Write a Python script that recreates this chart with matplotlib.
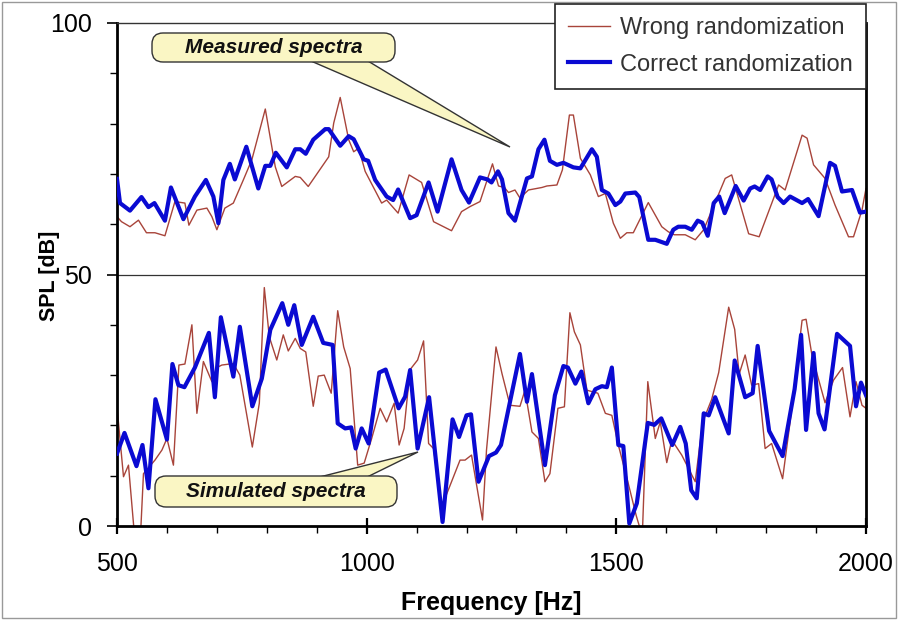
"""Spectra comparison: wrong vs correct randomization (measured and simulated SPL)."""

import numpy as np
import matplotlib.pyplot as plt
from matplotlib.patches import FancyBboxPatch, Polygon, Rectangle
from matplotlib.transforms import IdentityTransform

plt.rcParams['font.family'] = ['Liberation Sans', 'DejaVu Sans']

# (frequency [Hz], SPL [dB])
measured_wrong = [
    (500, 61.5), (509, 60.5), (526, 59.5), (543, 60.8), (559, 58.3), (576, 58.3), (596, 57.7),
    (616, 64.5), (636, 64.2), (644, 59.8), (660, 62.8), (680, 63.2), (690, 61.5), (700, 58.9),
    (716, 63.2), (733, 64.2), (753, 68.8), (770, 72.8), (797, 82.9), (817, 71.4), (830, 67.5),
    (857, 69.5), (867, 69.3), (883, 67.5), (924, 73.4), (934, 80.1), (947, 85.2), (964, 76.8),
    (974, 74.4), (984, 75.1), (997, 70.5), (1030, 64.2), (1040, 64.8), (1063, 62.2), (1085, 69.8),
    (1110, 68.3), (1134, 60.5), (1170, 58.7), (1190, 62.5), (1207, 63.5), (1227, 64.5), (1252, 72.0),
    (1264, 67.6), (1276, 67.3), (1284, 66.3), (1297, 66.8), (1307, 65.2), (1324, 66.8), (1351, 67.3),
    (1361, 67.6), (1381, 67.8), (1392, 70.8), (1406, 81.7), (1414, 81.7), (1428, 73.1), (1448, 69.8),
    (1464, 65.5), (1478, 66.1), (1494, 60.2), (1508, 57.2), (1521, 58.3), (1534, 58.3), (1564, 64.3),
    (1591, 59.5), (1604, 58.5), (1616, 57.9), (1638, 57.9), (1658, 56.9), (1675, 58.9), (1718, 69.1),
    (1731, 69.8), (1765, 58.1), (1786, 57.5), (1825, 67.8), (1838, 66.8), (1872, 77.7), (1882, 77.1),
    (1895, 71.8), (1918, 69.1), (1938, 63.8), (1965, 57.5), (1975, 57.5), (1992, 62.8), (2000, 67.1),
]

measured_correct = [
    (500, 69.0), (506, 64.2), (526, 62.7), (549, 65.4), (563, 63.4), (575, 64.2), (596, 60.7),
    (608, 67.3), (633, 61.0), (656, 65.5), (678, 68.8), (693, 65.5), (703, 60.2), (713, 68.8),
    (726, 72.0), (736, 68.9), (759, 75.4), (783, 67.1), (797, 71.6), (807, 71.6), (818, 74.2),
    (840, 71.3), (857, 74.9), (867, 74.9), (878, 74.0), (893, 76.8), (917, 78.9), (924, 78.9),
    (947, 75.6), (964, 77.5), (974, 76.9), (994, 72.9), (1003, 72.6), (1017, 68.8), (1040, 65.5),
    (1053, 64.8), (1063, 66.9), (1087, 61.2), (1100, 61.8), (1124, 68.3), (1142, 62.5), (1170, 72.9),
    (1190, 66.8), (1205, 64.3), (1227, 69.3), (1242, 68.9), (1250, 68.3), (1263, 70.5), (1271, 68.9),
    (1284, 62.2), (1297, 60.7), (1321, 69.1), (1331, 69.5), (1344, 74.9), (1356, 76.8), (1367, 72.6),
    (1381, 71.8), (1394, 72.2), (1414, 71.3), (1428, 71.1), (1451, 74.9), (1461, 73.4), (1471, 66.8),
    (1484, 66.1), (1498, 63.8), (1508, 64.5), (1518, 66.1), (1538, 66.3), (1546, 65.4), (1564, 56.9),
    (1578, 56.9), (1601, 56.1), (1614, 58.9), (1624, 59.5), (1638, 59.5), (1651, 58.9), (1663, 60.7),
    (1672, 60.3), (1683, 57.7), (1695, 64.2), (1706, 65.5), (1717, 62.2), (1739, 67.6), (1755, 64.7),
    (1768, 67.1), (1777, 67.5), (1788, 66.8), (1803, 69.5), (1811, 68.9), (1823, 65.4), (1835, 64.2),
    (1848, 65.5), (1872, 64.2), (1884, 65.0), (1905, 61.6), (1928, 72.2), (1938, 71.6), (1952, 66.5),
    (1972, 66.8), (1988, 62.3), (2000, 62.5),
]

simulated_wrong = [
    (500, 23.7), (513, 9.8), (523, 12.1), (536, -3.0), (547, -2.0), (553, 10.4), (576, 13.1),
    (590, 15.1), (600, 17.4), (613, 12.1), (624, 32.0), (636, 32.2), (650, 40.0), (660, 22.4),
    (673, 32.7), (690, 28.7), (700, 31.5), (710, 32.0), (733, 32.3), (746, 30.0), (771, 15.7),
    (785, 24.4), (795, 47.4), (805, 37.6), (820, 33.0), (833, 38.0), (843, 34.8), (857, 37.3),
    (867, 35.3), (878, 34.6), (893, 23.8), (903, 29.8), (915, 30.0), (929, 26.4), (942, 42.8),
    (954, 35.6), (967, 31.3), (982, 12.1), (995, 12.5), (1010, 17.4), (1027, 23.4), (1040, 20.7),
    (1055, 24.4), (1065, 16.1), (1075, 19.4), (1087, 31.1), (1102, 33.0), (1114, 36.8), (1124, 16.4),
    (1134, 15.4), (1150, 3.8), (1164, 7.3), (1187, 13.1), (1197, 13.1), (1210, 14.1), (1232, 1.2),
    (1240, 15.1), (1259, 35.6), (1271, 30.3), (1287, 24.0), (1307, 23.8), (1317, 27.0), (1331, 18.7),
    (1344, 17.4), (1357, 8.8), (1367, 10.4), (1383, 23.4), (1396, 23.7), (1407, 42.4), (1416, 38.6),
    (1428, 36.0), (1441, 27.0), (1463, 26.4), (1478, 22.4), (1491, 22.0), (1504, 16.1), (1520, 10.0),
    (1540, 2.0), (1552, -2.0), (1563, 28.7), (1578, 17.4), (1588, 20.7), (1601, 12.6), (1611, 17.1),
    (1631, 14.1), (1658, 8.8), (1673, 20.7), (1691, 25.2), (1705, 30.5), (1725, 43.5), (1737, 39.1),
    (1746, 30.2), (1758, 34.0), (1771, 28.0), (1785, 28.3), (1798, 15.4), (1811, 16.4), (1833, 9.4),
    (1848, 20.7), (1872, 40.9), (1880, 41.1), (1892, 33.8), (1918, 24.5), (1935, 29.0), (1953, 31.5),
    (1968, 21.7), (1980, 28.7), (1992, 24.0), (2000, 23.4),
]

simulated_correct = [
    (500, 14.4), (515, 18.5), (539, 11.9), (551, 16.1), (563, 7.5), (577, 25.2), (600, 17.2),
    (611, 32.2), (623, 28.0), (635, 27.6), (656, 31.5), (684, 38.4), (696, 25.6), (708, 41.5),
    (733, 29.7), (746, 39.6), (771, 23.8), (790, 29.3), (807, 39.0), (831, 44.3), (843, 40.0),
    (855, 43.9), (870, 36.0), (893, 41.6), (913, 36.4), (932, 36.0), (942, 20.4), (957, 19.4),
    (969, 19.6), (978, 15.4), (990, 19.4), (1004, 16.4), (1025, 30.5), (1038, 31.1), (1064, 23.4),
    (1077, 25.7), (1087, 31.0), (1102, 15.4), (1125, 25.6), (1152, 0.8), (1172, 21.2), (1185, 17.7),
    (1200, 22.0), (1209, 22.2), (1224, 8.8), (1245, 13.9), (1259, 14.6), (1269, 16.1), (1307, 34.2),
    (1321, 24.7), (1331, 30.2), (1357, 12.1), (1377, 26.0), (1394, 31.8), (1403, 31.5), (1418, 28.3),
    (1430, 30.7), (1444, 24.4), (1458, 27.2), (1471, 27.8), (1481, 27.6), (1491, 31.5), (1504, 16.1),
    (1514, 15.9), (1526, 0.5), (1541, 4.5), (1563, 20.5), (1576, 20.1), (1590, 21.4), (1612, 16.1),
    (1628, 19.7), (1639, 16.4), (1650, 7.1), (1661, 5.5), (1675, 22.4), (1685, 22.0), (1698, 25.6),
    (1725, 18.4), (1737, 32.9), (1758, 25.6), (1773, 26.4), (1783, 35.8), (1806, 18.9), (1833, 13.9),
    (1857, 27.2), (1870, 38.0), (1880, 19.1), (1895, 34.4), (1905, 22.4), (1917, 19.2), (1942, 38.2),
    (1968, 35.8), (1980, 23.8), (1990, 28.5), (2000, 26.0),
]

legend_labels = ['Wrong randomization', 'Correct randomization']

RED = '#A8443A'
BLUE = '#0A0AD2'
BOX_FILL = '#FAF6C4'

W, H = 899, 621


def px(x, y):
    """image pixel (top-left origin) -> display coords"""
    return (x, H - y)


def callout(text, box, base, tip):
    x0, y0, x1, y1 = box
    wedge = Polygon([px(*base[0]), px(*tip), px(*base[1])], closed=True,
                    facecolor=BOX_FILL, edgecolor='#333333', lw=1,
                    transform=IdentityTransform(), zorder=5)
    fig.add_artist(wedge)
    patch = FancyBboxPatch(px(x0, y1), x1 - x0, y1 - y0,
                           boxstyle='round,pad=0,rounding_size=11',
                           facecolor=BOX_FILL, edgecolor='#333333', lw=1,
                           transform=IdentityTransform(), zorder=6)
    fig.add_artist(patch)
    cx, cy = px((x0 + x1) / 2, (y0 + y1) / 2)
    fig.text(cx, cy, text, transform=IdentityTransform(), ha='center', va='center',
             fontsize=15, fontweight='bold', fontstyle='italic', color='#111111', zorder=7)


fig = plt.figure(figsize=(W / 100, H / 100), dpi=100)
ax = fig.add_axes([117 / W, 1 - 526 / H, (866 - 117) / W, (526 - 23) / H])

for data, colour, lw, label in [(measured_wrong, RED, 1.0, legend_labels[0]),
                                (measured_correct, BLUE, 3.0, legend_labels[1])]:
    f, db = np.array(data).T
    ax.plot(f, db, color=colour, lw=lw, label=label, zorder=3 if lw > 2 else 2)

for data, colour, lw in [(simulated_wrong, RED, 1.0), (simulated_correct, BLUE, 3.0)]:
    f, db = np.array(data).T
    ax.plot(f, db, color=colour, lw=lw, zorder=3 if lw > 2 else 2)

ax.axhline(50, color='#333333', lw=0.9, zorder=1)

ax.set_xlim(500, 2000)
ax.set_ylim(0, 100)
ax.set_xticks([500, 1000, 1500, 2000])
ax.set_xticks(np.arange(600, 2000, 100), minor=True)
ax.set_yticks([0, 50, 100])
ax.set_yticks(np.arange(10, 100, 10), minor=True)
ax.tick_params(axis='x', which='major', direction='inout', length=12, width=1.6,
               labelsize=18, pad=13, colors='black')
ax.tick_params(axis='x', which='minor', direction='out', length=5, width=1)
ax.tick_params(axis='y', which='major', direction='out', length=7, width=1.2,
               labelsize=18, pad=11)
ax.tick_params(axis='y', which='minor', direction='out', length=5, width=1)

for side in ['left', 'bottom', 'right']:
    ax.spines[side].set_linewidth(2)
    ax.spines[side].set_color('black')
ax.spines['top'].set_linewidth(1)
ax.spines['top'].set_color('#333333')

fig.text(50 / W, 1 - 276 / H, 'SPL [dB]', rotation=90, ha='center', va='center',
         fontsize=15.5, fontweight='bold')
fig.text(491 / W, 1 - 603 / H, 'Frequency [Hz]', ha='center', va='center',
         fontsize=18, fontweight='bold')

leg = ax.legend(loc='upper right', bbox_to_anchor=(866 / W, 1 - 4 / H),
                bbox_transform=fig.transFigure, fancybox=False, framealpha=1,
                edgecolor='#222222', fontsize=17, handlelength=1.75, handletextpad=0.45,
                borderpad=0.55, labelspacing=0.62, borderaxespad=0)
leg.get_frame().set_linewidth(1.2)
leg.set_zorder(10)
for t in leg.get_texts():
    t.set_color('#333333')

callout('Measured spectra', (152, 33, 395, 62), [(297, 55), (358, 55)], (510, 147))
callout('Simulated spectra', (155, 476, 397, 507), [(300, 482), (357, 482)], (418, 452))

fig.add_artist(Rectangle(px(2, 618), W - 5, H - 5, fill=False, edgecolor='#999999', lw=1,
                         transform=IdentityTransform(), zorder=0))

fig.savefig('out.png', dpi=100)
